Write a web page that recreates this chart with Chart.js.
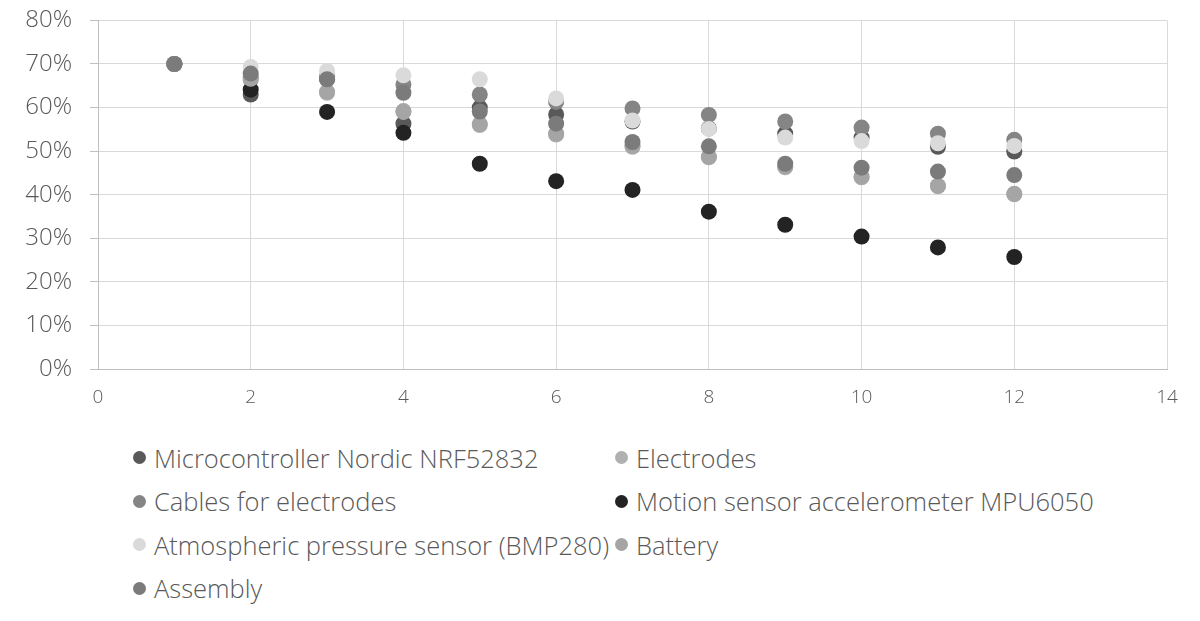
<!DOCTYPE html>
<html>
<head>
<meta charset="utf-8">
<script src="https://cdn.jsdelivr.net/npm/chart.js@4.4.1/dist/chart.umd.min.js"></script>
<style>
  html, body { margin: 0; padding: 0; background: #fff; }
  body { width: 1200px; height: 621px; position: relative; overflow: hidden; font-family: "Open Sans", sans-serif; }
  #wrap { position: absolute; left: 0; top: -12px; width: 1200px; height: 424px; }
  #legend { position: absolute; left: 133px; top: 436px; display: grid; grid-template-columns: 482px auto; row-gap: 0; }
  .item { display: flex; align-items: center; height: 43.5px; font-size: 25.5px; color: #595959; font-weight: 300; white-space: nowrap; }
  .dot { width: 13px; height: 13px; border-radius: 50%; margin-right: 8px; flex: none; }
</style>
</head>
<body>
<div id="wrap"><canvas id="c"></canvas></div>
<div id="legend"></div>
<script>
const xValues = [1, 2, 3, 4, 5, 6, 7, 8, 9, 10, 11, 12];
const seriesNames = [
  "Microcontroller Nordic NRF52832",
  "Electrodes",
  "Cables for electrodes",
  "Motion sensor accelerometer MPU6050",
  "Atmospheric pressure sensor (BMP280)",
  "Battery",
  "Assembly"
];
const microcontroller = [70, 63, 66.5, 56.3, 60, 58.4, 56.8, 55.2, 54, 53.1, 51, 49.9];
const electrodes      = [70, 66.3, 63.4, 59, 56, 53.8, 51, 48.6, 46.3, 44, 42, 40.1];
const cables          = [70, 67, 67.2, 65.3, 63, 61.3, 59.8, 58.3, 56.8, 55.4, 54, 52.6];
const motionSensor    = [70, 64.1, 59, 54.2, 47.1, 43.1, 41.1, 36.1, 33.1, 30.4, 27.9, 25.7];
const atmospheric     = [70, 69.3, 68.4, 67.4, 66.5, 62.1, 57, 55.1, 53.1, 52.3, 51.8, 51.2];
const battery         = [70, 66.6, 63.6, 59.2, 56.2, 54, 51.2, 48.7, 46.5, 44.1, 42, 40.2];
const assembly        = [70, 67.8, 66.5, 63.4, 59.1, 56.3, 52.1, 51.1, 47.1, 46.2, 45.3, 44.5];
const seriesColors = ["#595959", "#b0b0b0", "#858585", "#232323", "#dadada", "#a5a5a5", "#7b7b7b"];
const yTicks = [0, 10, 20, 30, 40, 50, 60, 70, 80];
const xTicks = [0, 2, 4, 6, 8, 10, 12, 14];

const allSeries = [microcontroller, electrodes, cables, motionSensor, atmospheric, battery, assembly];
const datasets = allSeries.map((vals, i) => ({
  label: seriesNames[i],
  data: xValues.map((x, j) => ({ x: x, y: vals[j] })),
  backgroundColor: seriesColors[i],
  borderColor: seriesColors[i],
  borderWidth: 0,
  pointRadius: 8,
  pointHoverRadius: 8,
  order: allSeries.length - 1 - i
}));

const font = { family: "'Open Sans', sans-serif", weight: 300 };
new Chart(document.getElementById('c'), {
  type: 'scatter',
  data: { datasets },
  options: {
    responsive: true,
    maintainAspectRatio: false,
    animation: false,
    layout: { padding: { top: 19, right: 33, left: 0, bottom: 3 } },
    plugins: { legend: { display: false }, tooltip: { enabled: false } },
    scales: {
      x: {
        type: 'linear', min: 0, max: 14,
        afterBuildTicks: (s) => { s.ticks = xTicks.map(v => ({ value: v })); },
        grid: { color: '#d9d9d9', lineWidth: 1, drawTicks: false },
        border: { color: '#bfbfbf' },
        ticks: { color: '#595959', font: { ...font, size: 19 }, padding: 17 },
        afterFit: (s) => { s.height = 40; }
      },
      y: {
        type: 'linear', min: 0, max: 80,
        afterBuildTicks: (s) => { s.ticks = yTicks.map(v => ({ value: v })); },
        grid: { color: '#d9d9d9', lineWidth: 1, tickLength: 8, tickColor: '#bfbfbf' },
        border: { color: '#bfbfbf' },
        ticks: { color: '#595959', font: { ...font, size: 24 }, padding: 18, callback: (v) => v + '%' },
        afterFit: (s) => { s.width = 98; }
      }
    }
  }
});

const legend = document.getElementById('legend');
seriesNames.forEach((name, i) => {
  const d = document.createElement('div');
  d.className = 'item';
  d.innerHTML = '<span class="dot" style="background:' + seriesColors[i] + '"></span><span></span>';
  d.lastChild.textContent = name;
  legend.appendChild(d);
});
</script>
</body>
</html>
